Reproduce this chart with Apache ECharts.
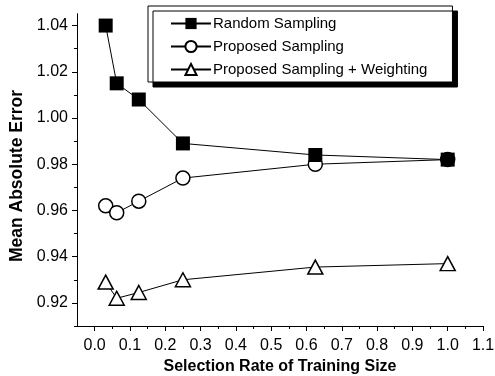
<!DOCTYPE html>
<html>
<head>
<meta charset="utf-8">
<script src="https://cdn.jsdelivr.net/npm/echarts@6/dist/echarts.min.js"></script>
<style>
  html, body { margin: 0; padding: 0; background: #fff; }
  #chart { width: 495px; height: 376px; }
</style>
</head>
<body>
<div id="chart"></div>
<script>
// selection rate of the training set
const rates = [0.03125, 0.0625, 0.125, 0.25, 0.625, 1.0]
const randomSampling = [1.040, 1.015, 1.008, 0.989, 0.984, 0.982]
const proposedSampling = [0.962, 0.959, 0.964, 0.974, 0.980, 0.982]
const proposedWeighting = [0.929, 0.922, 0.9245, 0.930, 0.9355, 0.937]

const xLabels = [0.0, 0.1, 0.2, 0.3, 0.4, 0.5, 0.6, 0.7, 0.8, 0.9, 1.0, 1.1]
const xMinor = [0.05, 0.15, 0.25, 0.35, 0.45, 0.55, 0.65, 0.75, 0.85, 0.95, 1.05]
const yLabels = [0.92, 0.94, 0.96, 0.98, 1.00, 1.02, 1.04]
const yMinor = [0.91, 0.93, 0.95, 0.97, 0.99, 1.01, 1.03]

const FONT = '"Liberation Sans", Arial, sans-serif'

const pairs = ys => rates.map((r, i) => [r, ys[i]])

const chart = echarts.init(document.getElementById('chart'))

const baseX = {
  type: 'value',
  min: -0.05,
  max: 1.1,
  splitLine: { show: false },
  axisLine: { show: true, onZero: false, lineStyle: { color: '#000', width: 1 } },
}
const baseY = {
  type: 'value',
  min: 0.91,
  max: 1.045,
  splitLine: { show: false },
  axisLine: { show: true, onZero: false, lineStyle: { color: '#000', width: 1 } },
}

chart.setOption({
  animation: false,
  backgroundColor: '#fff',
  grid: { left: 77, right: 12, top: 14, bottom: 50, containLabel: false, outerBoundsMode: 'none' },
  legend: {
    left: 148,
    top: 6,
    orient: 'vertical',
    data: ['Random Sampling', 'Proposed Sampling', 'Proposed Sampling + Weighting'],
    itemWidth: 40,
    itemHeight: 14,
    itemGap: 8,
    padding: [10, 25, 5, 22],
    backgroundColor: '#fff',
    borderColor: '#000',
    borderWidth: 1,
    borderRadius: 0,
    shadowColor: '#000',
    shadowBlur: 0,
    shadowOffsetX: 5,
    shadowOffsetY: 5,
    textStyle: { fontFamily: FONT, fontSize: 15, color: '#000', padding: [0, 0, 0, -3] },
  },
  xAxis: [
    {
      ...baseX,
      name: 'Selection Rate of Training Size',
      nameLocation: 'middle',
      nameGap: 31,
      nameTextStyle: { fontFamily: FONT, fontSize: 16, fontWeight: 'bold', color: '#000' },
      axisTick: { show: true, inside: false, length: 5, customValues: xLabels, lineStyle: { color: '#000' } },
      axisLabel: {
        customValues: xLabels,
        margin: 12,
        fontFamily: FONT,
        fontSize: 16,
        color: '#000',
        formatter: v => v.toFixed(1),
      },
    },
    {
      ...baseX,
      position: 'bottom',
      axisTick: { show: true, length: 3, customValues: xMinor, lineStyle: { color: '#000' } },
      axisLabel: { show: false },
    },
  ],
  yAxis: [
    {
      ...baseY,
      name: 'Mean Absolute Error',
      nameLocation: 'middle',
      nameGap: 50,
      nameTextStyle: { fontFamily: FONT, fontSize: 17.5, fontWeight: 'bold', color: '#000', padding: [0, 12, 0, 0] },
      axisTick: { show: true, length: 5, customValues: yLabels, lineStyle: { color: '#000' } },
      axisLabel: {
        customValues: yLabels,
        margin: 9,
        fontFamily: FONT,
        fontSize: 16,
        color: '#000',
        formatter: v => v.toFixed(2),
      },
    },
    {
      ...baseY,
      position: 'left',
      axisTick: { show: true, length: 3, customValues: yMinor, lineStyle: { color: '#000' } },
      axisLabel: { show: false },
    },
  ],
  series: [
    {
      name: 'Proposed Sampling + Weighting',
      type: 'line',
      z: 2,
      data: pairs(proposedWeighting),
      symbol: 'triangle',
      symbolSize: [15, 14],
      itemStyle: { color: '#fff', borderColor: '#000', borderWidth: 1.5 },
      lineStyle: { color: '#000', width: 1 },
    },
    {
      name: 'Proposed Sampling',
      type: 'line',
      z: 3,
      data: pairs(proposedSampling),
      symbol: 'circle',
      symbolSize: 14,
      itemStyle: { color: '#fff', borderColor: '#000', borderWidth: 1.5 },
      lineStyle: { color: '#000', width: 1 },
    },
    {
      name: 'Random Sampling',
      type: 'line',
      z: 4,
      data: pairs(randomSampling),
      symbol: 'rect',
      symbolSize: 14,
      itemStyle: { color: '#000', borderColor: '#000', borderWidth: 0 },
      lineStyle: { color: '#000', width: 1 },
    },
  ],
})
</script>
</body>
</html>
